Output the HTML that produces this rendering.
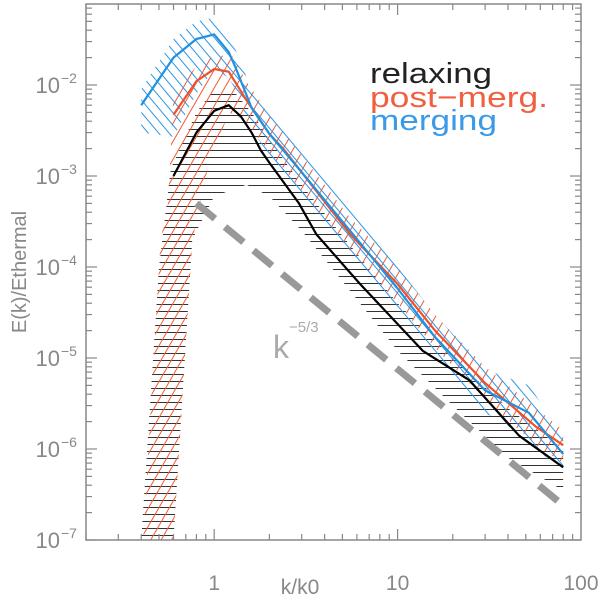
<!DOCTYPE html>
<html><head><meta charset="utf-8"><style>
html,body{margin:0;padding:0;background:#fff;}
svg{display:block;font-family:"Liberation Sans",sans-serif;}
</style></head><body>
<svg id="chart" width="600" height="600" viewBox="0 0 600 600" xmlns="http://www.w3.org/2000/svg">
<defs>
<pattern id="hatchBlack" patternUnits="userSpaceOnUse" width="20" height="7"><line x1="0" y1="3.5" x2="20" y2="3.5" stroke="#333" stroke-width="1"/></pattern>
<pattern id="hatchRed" patternUnits="userSpaceOnUse" width="9" height="9" patternTransform="rotate(30)"><line x1="4.5" y1="0" x2="4.5" y2="9" stroke="#f05a30" stroke-width="1"/></pattern>
<pattern id="hatchBlue" patternUnits="userSpaceOnUse" width="8" height="8" patternTransform="rotate(-40)"><line x1="4" y1="0" x2="4" y2="8" stroke="#2a95e8" stroke-width="1"/></pattern>
</defs>
<g id="plot"></g>
</svg>
<script>
const blueK=[0.4,0.6,0.8,1.0,1.2,1.3,1.6,2,3,5.7,10,16,30,52,80];
const blueE=[6e-3,2e-2,3.2e-2,3.6e-2,2.3e-2,1.6e-2,5.6e-3,2.9e-3,1.1e-3,2.3e-4,5.8e-5,1.7e-5,4.4e-6,2.5e-6,8.8e-7];
const blueHi=[9e-3,3.2e-2,5e-2,5.5e-2,3.6e-2,2.5e-2,9e-3,5e-3,1.9e-3,4e-4,1e-4,3e-5,7.5e-6,5e-6,1.4e-6];
const blueLo=[3e-3,2.7e-3,8e-3,1.5e-2,1.2e-2,9e-3,3.2e-3,1.7e-3,6e-4,1.3e-4,3.4e-5,9.5e-6,2.5e-6,1.3e-6,5e-7];
const redK=[0.6,0.8,1.0,1.2,1.5,2,2.4,5.5,10,16,30,57,80];
const redE=[4.7e-3,1.1e-2,1.5e-2,1.4e-2,6.8e-3,2.9e-3,1.95e-3,2.3e-4,6.5e-5,2e-5,5.3e-6,1.75e-6,1.1e-6];
const redUpK=[0.41,0.51,0.56,0.6,0.8,1.0,1.25,1.5,2,2.4,5.5,10,16,30,57,80];
const redUp=[1e-7,2e-4,5e-4,8e-3,1.6e-2,2.1e-2,2.1e-2,1.1e-2,4.6e-3,3e-3,3.5e-4,1e-4,3e-5,8e-6,2.8e-6,1.6e-6];
const redLoK=[0.6,0.76,0.9,1.2,1.5,2,2.4,5.5,10,16,30,57,80];
const redLo=[1e-7,1.9e-4,1e-3,5e-3,4e-3,1.8e-3,1.2e-3,1.5e-4,4e-5,1.3e-5,3.5e-6,1.1e-6,7e-7];
const blackK=[0.6,0.8,1.0,1.2,1.4,1.6,1.8,2,2.9,3.6,6.2,13.7,24.6,46,80];
const blackE=[1e-3,3e-3,5.2e-3,6e-3,4.5e-3,3e-3,1.9e-3,1.4e-3,5e-4,2.3e-4,6.6e-5,1.2e-5,5.7e-6,1.4e-6,6.3e-7];
const blackUpK=[0.4,0.5,0.58,0.8,1.0,1.25,1.6,2,3,5,10,20,40,80];
const blackUp=[1e-7,1e-4,1.2e-3,5e-3,9e-3,9e-3,5e-3,2.5e-3,8e-4,2.2e-4,4e-5,1e-5,2.8e-6,1e-6];
const blackLoK=[0.6,0.76,1.0,1.5,2,3,5,10,20,40,80];
const blackLo=[1e-7,2e-4,6e-4,8e-4,6e-4,2.5e-4,7e-5,1.2e-5,3e-6,8e-7,3.5e-7];
const refK=[0.8,80];
const refE=[5e-4,2.4e-7];
const xTickVals=[1,10,100];
const xTickLabels=["1","10","100"];
const yTickExps=[-7,-6,-5,-4,-3,-2];

const L=86,R=581,T=4,B=540;
const X0=Math.log10(0.2),X1=2,Y0=-7,YD=91;
function sx(k){return L+(Math.log10(k)-X0)/(X1-X0)*(R-L);}
function sy(e){return B-(Math.log10(e)-Y0)*YD;}
const NS="http://www.w3.org/2000/svg";
const g=document.getElementById('plot');
function mk(t,a,p){const e=document.createElementNS(NS,t);for(const k in a)e.setAttribute(k,a[k]);(p||g).appendChild(e);return e;}
function pts(K,E){return K.map((k,i)=>sx(k).toFixed(1)+','+sy(E[i]).toFixed(1));}

function band(upK,up,loK,lo,fill,name){
  const p=pts(upK,up).concat(pts(loK,lo).reverse());
  const e=mk('polygon',{points:p.join(' '),fill:fill,stroke:'none'});
  
  
}
band(blackUpK,blackUp,blackLoK,blackLo,'url(#hatchBlack)','relaxing-band');
band(redUpK,redUp,redLoK,redLo,'url(#hatchRed)','post-merg-band');
band(blueK,blueHi,blueK,blueLo,'url(#hatchBlue)','merging-band');

const ref=mk('polyline',{points:pts(refK,refE).join(' '),fill:'none',stroke:'#999','stroke-width':7,'stroke-dasharray':'24,13'});



function line(K,E,c,name){
  const e=mk('polyline',{points:pts(K,E).join(' '),fill:'none',stroke:c,'stroke-width':2.2,'stroke-linejoin':'round'});
  
  
}
line(redK,redE,'#f0502a','post-merg-line');
line(blueK,blueE,'#2090e0','merging-line');
line(blackK,blackE,'#000','relaxing-line');

const ax=mk('rect',{x:L,y:T,width:R-L,height:B-T,fill:'none',stroke:'#888','stroke-width':1.5});


const ticks=mk('g',{stroke:'#888','stroke-width':1.2});


for(let d=-1;d<=1;d++){for(let m=1;m<=9;m++){const k=m*Math.pow(10,d);if(k<0.2||k>100)continue;const x=sx(k);const len=m==1?11:6;
  mk('line',{x1:x,y1:B,x2:x,y2:B-len},ticks);mk('line',{x1:x,y1:T,x2:x,y2:T+len},ticks);}}
for(let d=-7;d<=-2;d++){for(let m=1;m<=9;m++){const e=m*Math.pow(10,d);const y=sy(e);if(y<T)continue;const len=m==1?11:6;
  mk('line',{x1:L,y1:y,x2:L+len,y2:y},ticks);mk('line',{x1:R,y1:y,x2:R-len,y2:y},ticks);}}
xTickVals.forEach((v,i)=>{const t=mk('text',{x:sx(v),y:590,'text-anchor':'middle','font-size':21,fill:'#888'});t.textContent=xTickLabels[i];
  
  });
yTickExps.forEach(p=>{const t=mk('text',{x:60,y:sy(Math.pow(10,p))+8,'text-anchor':'end','font-size':22,fill:'#888'});t.textContent='10';
  
  
  const s=mk('text',{x:61,y:sy(Math.pow(10,p))-2,'font-size':14,fill:'#888'});s.textContent='−'+(-p);
  
  });
</script>
<svg style="position:absolute;left:0;top:0" width="600" height="600">
<text x="300" y="594" text-anchor="middle" font-family="Liberation Sans, sans-serif" font-size="21" fill="#888">k/k0</text>
<text transform="translate(26,272) rotate(-90)" text-anchor="middle" font-family="Liberation Sans, sans-serif" font-size="20" fill="#888">E(k)/Ethermal</text>
<text x="370" y="83" font-family="Liberation Sans, sans-serif" font-size="29" fill="#222" textLength="122" lengthAdjust="spacingAndGlyphs">relaxing</text>
<text x="370" y="107" font-family="Liberation Sans, sans-serif" font-size="29" fill="#f06040" textLength="178" lengthAdjust="spacingAndGlyphs">post−merg.</text>
<text x="370" y="130" font-family="Liberation Sans, sans-serif" font-size="29" fill="#3a9ae8" textLength="127" lengthAdjust="spacingAndGlyphs">merging</text>
<text x="273" y="358" font-family="Liberation Sans, sans-serif" font-size="32" fill="#aaa">k</text>
<text x="289" y="332" font-family="Liberation Sans, sans-serif" font-size="15" fill="#aaa">−5/3</text>
</svg>
</body></html>
